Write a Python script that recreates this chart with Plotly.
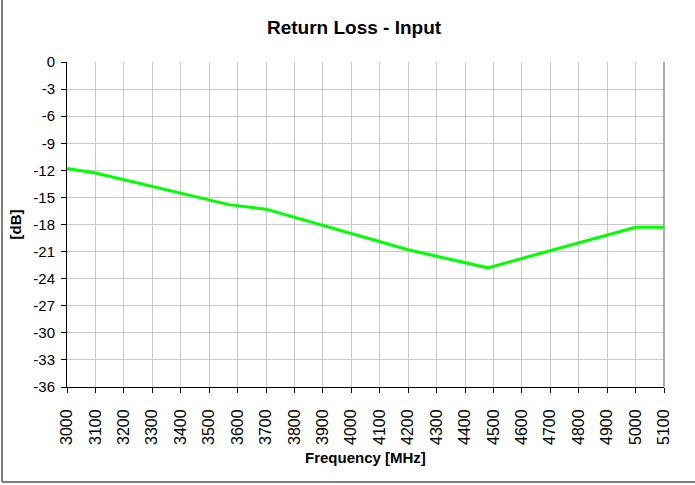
import plotly.graph_objects as go

# Data
freq_mhz = [3000, 3100, 3570, 3700, 4200, 4480, 5000, 5100]
return_loss_db = [-11.8, -12.3, -15.8, -16.3, -20.8, -22.8, -18.3, -18.3]

x_ticks = list(range(3000, 5101, 100))
x_tick_labels = [str(v) for v in x_ticks]
y_ticks = list(range(0, -37, -3))
y_tick_labels = [str(v) for v in y_ticks]

W, H = 695, 485
L, R, T, B = 67, 31, 62, 98
pw, ph = W - L - R, H - T - B

font_family = "Liberation Sans, Arial, sans-serif"

fig = go.Figure()
fig.add_trace(go.Scatter(
    x=freq_mhz, y=return_loss_db, mode="lines",
    line=dict(color="#00ff00", width=3),
    showlegend=False, hoverinfo="x+y",
))

fig.update_layout(
    width=W, height=H,
    margin=dict(l=L, r=R, t=T, b=B),
    paper_bgcolor="white", plot_bgcolor="white",
    font=dict(family=font_family, size=15, color="black"),
    title=dict(text="<b>Return Loss - Input</b>", x=354 / W, xanchor="center",
               y=1 - 27 / H, yanchor="middle", font=dict(size=19)),
    xaxis=dict(
        range=[3000, 5100], tickvals=x_ticks, ticktext=x_tick_labels,
        tickangle=-90, showgrid=True, gridcolor="#c8c8c8", gridwidth=1,
        showline=True, linecolor="black", linewidth=1,
        ticks="outside", ticklen=5, tickcolor="black",
        zeroline=False, tickfont=dict(size=16), ticklabelstandoff=10,
    ),
    yaxis=dict(
        range=[-36, 0], tickvals=y_ticks, ticktext=y_tick_labels,
        showgrid=True, gridcolor="#c8c8c8", gridwidth=1,
        showline=True, linecolor="black", linewidth=1,
        ticks="outside", ticklen=5, tickcolor="black",
        zeroline=False, tickfont=dict(size=15), ticklabelstandoff=3,
    ),
    annotations=[
        dict(text="<b>Frequency [MHz]</b>", xref="paper", yref="paper",
             x=0.5, y=-(457 - (T + ph)) / ph, xanchor="center", yanchor="middle",
             showarrow=False, font=dict(size=15)),
        dict(text="<b>[dB]</b>", xref="paper", yref="paper",
             x=(15 - L) / pw, y=0.5, xanchor="center", yanchor="middle",
             textangle=-90, showarrow=False, font=dict(size=15)),
    ],
    shapes=[
        # plot-area right border (gray)
        dict(type="line", xref="paper", yref="paper", x0=1, x1=1, y0=0, y1=1,
             line=dict(color="#909090", width=1.5), layer="above"),
        # outer chart border (left and bottom visible)
        dict(type="line", xref="paper", yref="paper",
             x0=(2 - L) / pw, x1=(2 - L) / pw, y0=-(482 - T - ph) / ph, y1=(T + ph + 10) / ph,
             line=dict(color="#555555", width=1.5), layer="above"),
        dict(type="line", xref="paper", yref="paper",
             x0=(2 - L) / pw, x1=(W + 10 - L) / pw, y0=-(482 - T - ph) / ph, y1=-(482 - T - ph) / ph,
             line=dict(color="#555555", width=1.5), layer="above"),
    ],
)

fig.write_html("out.html", config={"displayModeBar": False},
               post_script="document.body.style.margin='0';")
